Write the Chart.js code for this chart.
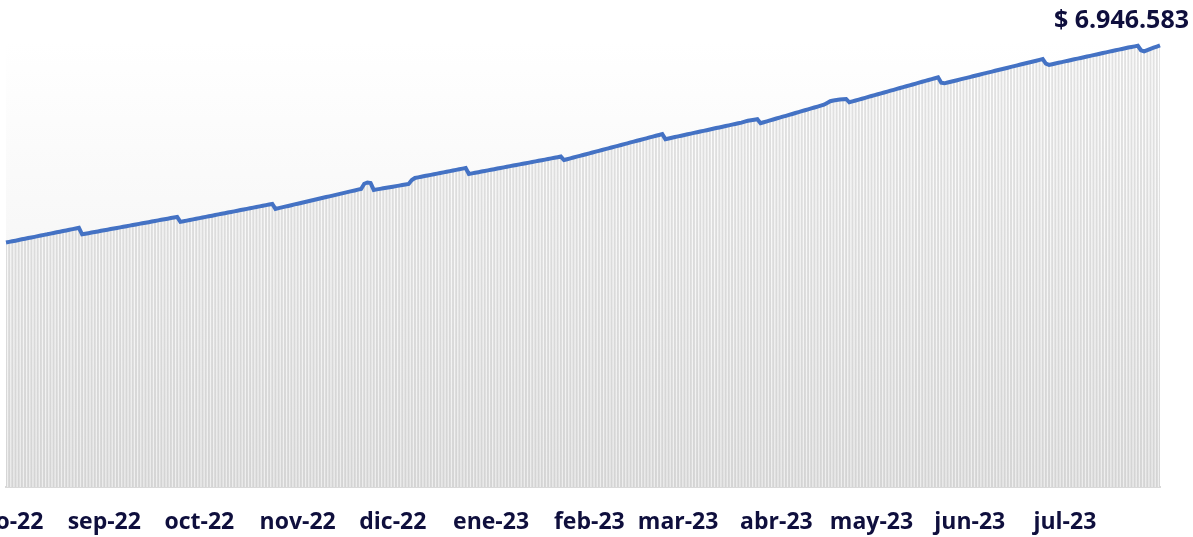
<!DOCTYPE html>
<html lang="es">
<head>
    <meta charset="UTF-8">
    <meta name="viewport" content="width=device-width, initial-scale=1.0">
    <script src="https://cdn.jsdelivr.net/npm/chart.js"></script>
    <title>Saldo diario</title>
    <style>
        html, body { margin: 0; padding: 0; background: #ffffff; }
        #grafico-box { width: 1193px; height: 537px; }
    </style>
</head>
<body>
    <div id="grafico-box">
        <canvas id="grafico"></canvas>
    </div>

    <script>
        // meses del eje y cuantos dias tiene cada uno
        var meses = ['ago-22', 'sep-22', 'oct-22', 'nov-22', 'dic-22', 'ene-23', 'feb-23', 'mar-23', 'abr-23', 'may-23', 'jun-23', 'jul-23']
        var diasMes = [31, 30, 31, 30, 31, 31, 28, 31, 30, 31, 30, 31]

        // saldo diario (un arreglo por mes)
        var ago22 = [3846000, 3856000, 3866000, 3875000, 3885000, 3896000, 3906000, 3916000, 3925000, 3935000, 3946000, 3956000, 3966000, 3975000, 3986000, 3996000, 4006000, 4016000, 4026000, 4036000, 4046000, 4056000, 4066000, 4077000, 3975000, 3984000, 3993000, 4002000, 4011000, 4020000, 4030000]
        var sep22 = [4039000, 4048000, 4057000, 4066000, 4075000, 4084000, 4093000, 4103000, 4112000, 4121000, 4130000, 4139000, 4148000, 4157000, 4166000, 4176000, 4185000, 4194000, 4203000, 4212000, 4221000, 4230000, 4240000, 4249000, 4171000, 4181000, 4190000, 4200000, 4210000, 4220000]
        var oct22 = [4229000, 4239000, 4249000, 4259000, 4268000, 4278000, 4288000, 4298000, 4307000, 4317000, 4327000, 4336000, 4346000, 4356000, 4366000, 4375000, 4385000, 4395000, 4404000, 4414000, 4424000, 4434000, 4443000, 4453000, 4375000, 4387000, 4398000, 4410000, 4421000, 4433000, 4445000]
        var nov22 = [4456000, 4468000, 4480000, 4491000, 4503000, 4514000, 4526000, 4538000, 4549000, 4561000, 4572000, 4584000, 4596000, 4607000, 4619000, 4630000, 4642000, 4654000, 4665000, 4677000, 4688000, 4770000, 4790000, 4780000, 4673000, 4682000, 4690000, 4699000, 4707000, 4716000]
        var dic22 = [4724000, 4733000, 4741000, 4750000, 4758000, 4767000, 4829000, 4861000, 4871000, 4881000, 4891000, 4900000, 4910000, 4920000, 4930000, 4939000, 4949000, 4959000, 4969000, 4979000, 4988000, 4998000, 5008000, 5018000, 4924000, 4933000, 4943000, 4952000, 4962000, 4971000, 4981000]
        var ene23 = [4990000, 4999000, 5009000, 5018000, 5028000, 5037000, 5047000, 5056000, 5065000, 5075000, 5084000, 5094000, 5103000, 5113000, 5122000, 5131000, 5141000, 5150000, 5160000, 5169000, 5179000, 5188000, 5198000, 5143000, 5156000, 5169000, 5183000, 5196000, 5209000, 5222000, 5235000]
        var feb23 = [5248000, 5262000, 5275000, 5288000, 5301000, 5314000, 5327000, 5341000, 5354000, 5367000, 5380000, 5393000, 5406000, 5420000, 5433000, 5446000, 5459000, 5472000, 5485000, 5499000, 5512000, 5525000, 5538000, 5551000, 5472000, 5483000, 5494000, 5505000]
        var mar23 = [5515000, 5526000, 5537000, 5548000, 5559000, 5570000, 5581000, 5591000, 5602000, 5613000, 5624000, 5635000, 5646000, 5656000, 5667000, 5678000, 5689000, 5700000, 5711000, 5722000, 5732000, 5748000, 5760000, 5768000, 5777000, 5786000, 5723000, 5738000, 5752000, 5767000, 5781000]
        var abr23 = [5796000, 5810000, 5825000, 5839000, 5854000, 5868000, 5883000, 5897000, 5912000, 5926000, 5941000, 5955000, 5970000, 5984000, 5999000, 6013000, 6040000, 6068000, 6080000, 6088000, 6095000, 6100000, 6104000, 6052000, 6066000, 6080000, 6094000, 6108000, 6122000, 6136000]
        var may23 = [6150000, 6164000, 6178000, 6192000, 6206000, 6220000, 6234000, 6248000, 6262000, 6276000, 6290000, 6304000, 6318000, 6332000, 6346000, 6360000, 6374000, 6388000, 6402000, 6416000, 6430000, 6444000, 6360000, 6350000, 6362000, 6375000, 6387000, 6399000, 6412000, 6424000, 6436000]
        var jun23 = [6448000, 6461000, 6473000, 6485000, 6498000, 6510000, 6522000, 6534000, 6547000, 6559000, 6571000, 6584000, 6596000, 6608000, 6620000, 6633000, 6645000, 6657000, 6670000, 6682000, 6694000, 6706000, 6719000, 6731000, 6660000, 6640000, 6651000, 6662000, 6673000, 6684000]
        var jul23 = [6695000, 6706000, 6717000, 6728000, 6738000, 6749000, 6760000, 6771000, 6782000, 6793000, 6804000, 6815000, 6826000, 6837000, 6848000, 6859000, 6869000, 6880000, 6891000, 6902000, 6913000, 6922000, 6931000, 6940000, 6870000, 6852000, 6872000, 6891000, 6910000, 6928000, 6946583]

        var yMin = 0
        var yMax = 7000000

        var saldos = [].concat(ago22, sep22, oct22, nov22, dic22, ene23, feb23, mar23, abr23, may23, jun23, jul23)

        // etiqueta por dia: "dia|mes"
        var etiquetas = []
        meses.forEach(function (mes, m) {
            for (var d = 1; d <= diasMes[m]; d++) {
                etiquetas.push(d + '|' + mes)
            }
        })

        function formatoPesos(v) {
            return '$ ' + Math.round(v).toString().replace(/\B(?=(\d{3})+(?!\d))/g, '.')
        }

        var navy = '#0f0f3d'

        // fondo del area de grafico con degradado suave
        var fondo = {
            id: 'fondo',
            beforeDatasetsDraw: function (chart) {
                var a = chart.chartArea
                var ctx = chart.ctx
                var g = ctx.createLinearGradient(0, a.top, 0, a.bottom)
                g.addColorStop(0, '#ffffff')
                g.addColorStop(1, '#eeeeee')
                ctx.save()
                ctx.fillStyle = g
                ctx.fillRect(a.left, a.top, a.right - a.left, a.bottom - a.top)
                ctx.restore()
            }
        }

        // rotulo del ultimo valor
        var ultimoValor = {
            id: 'ultimoValor',
            afterDatasetsDraw: function (chart) {
                var meta = chart.getDatasetMeta(0)
                var pt = meta.data[meta.data.length - 1]
                var ctx = chart.ctx
                ctx.save()
                ctx.font = 'bold 25px "Open Sans"'
                ctx.fillStyle = navy
                ctx.textAlign = 'right'
                ctx.textBaseline = 'middle'
                ctx.fillText(formatoPesos(saldos[saldos.length - 1]), chart.width - 4, pt.y - 25)
                ctx.restore()
            }
        }

        var ctx = document.getElementById('grafico').getContext('2d')

        var myChart = new Chart(ctx, {
            data: {
                labels: etiquetas,
                datasets: [{
                    type: 'line',
                    label: 'Saldo',
                    data: saldos,
                    borderColor: '#4472c4',
                    borderWidth: 4,
                    pointRadius: 0,
                    tension: 0,
                    order: 0
                }, {
                    type: 'bar',
                    label: 'Area',
                    data: saldos,
                    backgroundColor: function (c) {
                        var a = c.chart.chartArea
                        if (!a) return '#dddddd'
                        var g = c.chart.ctx.createLinearGradient(0, a.top, 0, a.bottom)
                        g.addColorStop(0, '#e2e2e2')
                        g.addColorStop(1, '#d4d4d4')
                        return g
                    },
                    borderWidth: 0,
                    barPercentage: 0.6,
                    categoryPercentage: 1,
                    order: 1
                }]
            },
            options: {
                responsive: true,
                maintainAspectRatio: false,
                animation: false,
                layout: {
                    padding: { left: 6, right: 33, top: 42, bottom: 0 }
                },
                plugins: {
                    legend: { display: false },
                    tooltip: { enabled: false }
                },
                scales: {
                    x: {
                        offset: false,
                        grid: { display: false, drawTicks: false },
                        border: { display: true, color: '#d9d9d9', width: 2 },
                        ticks: {
                            autoSkip: false,
                            maxRotation: 0,
                            minRotation: 0,
                            padding: 22,
                            color: navy,
                            font: { family: 'Open Sans', size: 23, weight: 'bold' },
                            callback: function (val, i) {
                                var p = etiquetas[i].split('|')
                                return p[0] === '1' ? p[1] : ''
                            }
                        },
                        afterFit: function (scale) {
                            // dejar que la primera etiqueta se corte en el borde
                            scale.paddingLeft = 0
                            scale.paddingRight = 0
                            scale.height = 50
                        }
                    },
                    y: {
                        display: false,
                        min: yMin,
                        max: yMax
                    }
                }
            },
            plugins: [fondo, ultimoValor]
        })
    </script>
</body>
</html>
